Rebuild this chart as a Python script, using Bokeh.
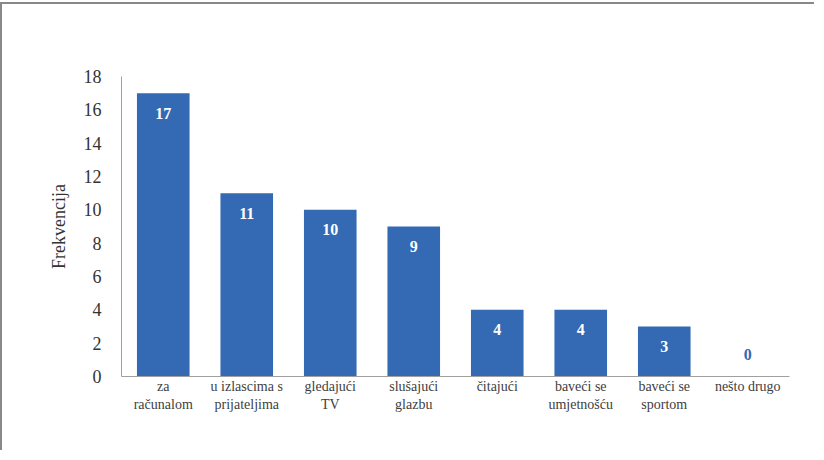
from bokeh.plotting import figure
from bokeh.models import ColumnDataSource, FixedTicker
from bokeh.core.properties import value
from bokeh.embed import file_html
from bokeh.resources import INLINE

categories = ["za\nračunalom", "u izlascima s\nprijateljima", "gledajući\nTV", "slušajući\nglazbu",
              "čitajući", "baveći se\numjetnošću", "baveći se\nsportom", "nešto drugo"]
values = [17, 11, 10, 9, 4, 4, 3, 0]
y_ticks = [0, 2, 4, 6, 8, 10, 12, 14, 16, 18]

BAR = "#3469b3"
SERIF = "'Liberation Serif'"
src = ColumnDataSource(dict(
    cat=categories,
    val=values,
    lbl=[str(v) for v in values],
    col=["white" if v > 0 else BAR for v in values],
    off=[20 if v > 0 else -22 for v in values],
))

p = figure(x_range=categories, y_range=(0, 18), width=814, height=448,
           output_backend="svg", toolbar_location=None,
           min_border_left=119, min_border_right=27, min_border_top=72, min_border_bottom=76)
p.styles = {"border-top": "2px solid #888888", "border-left": "2px solid #888888",
            "margin-top": "2px"}
p.outline_line_color = None
p.xgrid.grid_line_color = None
p.ygrid.grid_line_color = None
p.x_range.range_padding = 0.0

p.vbar(x="cat", top="val", width=0.63, source=src, fill_color=BAR, line_color=None)
p.text(x="cat", y="val", text="lbl", source=src, text_color="col", y_offset="off",
       text_align="center", text_baseline="middle", text_font=value(SERIF),
       text_font_size="16px", text_font_style="bold")

ya = p.yaxis[0]
ya.ticker = FixedTicker(ticks=y_ticks)
ya.axis_label = "Frekvencija"
ya.axis_label_text_font = "serif"
ya.axis_label_text_font_size = "18px"
ya.axis_label_text_font_style = "normal"
ya.axis_label_text_color = "#333333"
ya.axis_label_standoff = 12
ya.major_label_text_font = SERIF
ya.major_label_text_font_size = "18px"
ya.major_label_text_color = "#333333"
ya.major_tick_line_color = None
ya.minor_tick_line_color = None
ya.axis_line_color = "#a0a0a0"
ya.major_label_standoff = 14

xa = p.xaxis[0]
xa.major_label_text_font = "serif"
xa.major_label_text_font_size = "14px"
xa.major_label_text_color = "#404040"
xa.major_tick_line_color = None
xa.minor_tick_line_color = None
xa.axis_line_color = "#a0a0a0"
xa.major_label_standoff = -4

open("out.html", "w").write(file_html(p, INLINE))
